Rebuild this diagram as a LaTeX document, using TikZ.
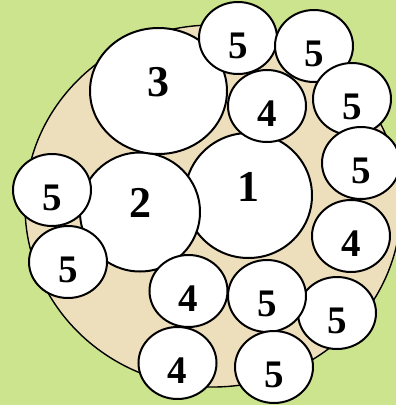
\documentclass[tikz,border=0pt]{standalone}
\usepackage{fontspec}
\setmainfont{Liberation Serif}
\usepackage{tikz}
\usetikzlibrary{shapes.geometric}
\definecolor{pdLawn}{HTML}{CDE48F}
\definecolor{pdSand}{HTML}{EEDFBC}
\definecolor{pdEdge}{HTML}{000000}

\begin{document}
\begin{tikzpicture}[
  x=1pt, y=-1pt,
  plant/.style={
    ellipse, draw=pdEdge, line width=2pt,
    fill=white, inner sep=0pt, text=black
  },
  % big plants: number sits a bit above the middle
  big/.style={plant, font=\fontsize{44}{44}\selectfont\bfseries,
    text height=11pt, text depth=0pt},
  % small plants: number sits a bit below the middle
  small/.style={plant, minimum width=78pt, minimum height=72pt,
    font=\fontsize{39}{39}\selectfont\bfseries,
    text height=40pt, text depth=0pt}
]

% ---- ground ---------------------------------------------------------------
\fill[pdLawn] (0,0) rectangle (396,405);
\useasboundingbox (0,0) rectangle (396,405);
\clip (0,0) rectangle (396,405);
\draw[fill=pdSand, line width=1.4pt] (213,206) ellipse [x radius=188, y radius=181];

% ---- big plants -----------------------------------------------------------
\node[big, minimum width=127pt, minimum height=125pt] (p1) at (248.5,195.5) {1};
\node[big, minimum width=120pt, minimum height=119pt] (p2) at (140,212) {2};
\node[big, minimum width=137pt, minimum height=126pt] (p3) at (158.5,91) {3};

% ---- small plants ---------------------------------------------------------
\node[small] (p4a) at (267,106)   {4};
\node[small] (p4b) at (351,236)   {4};
\node[small] (p4c) at (188.5,291) {4};
\node[small] (p4d) at (177.5,363) {4};

\node[small] (p5a) at (238,38)  {5};
\node[small] (p5b) at (314,46)  {5};
\node[small] (p5c) at (352,99)  {5};
\node[small] (p5d) at (361,163) {5};
\node[small] (p5e) at (337,313) {5};
\node[small] (p5f) at (267,296) {5};
\node[small] (p5g) at (274,367) {5};
\node[small] (p5h) at (52,190)  {5};
\node[small] (p5i) at (68,262)  {5};

\end{tikzpicture}
\end{document}
